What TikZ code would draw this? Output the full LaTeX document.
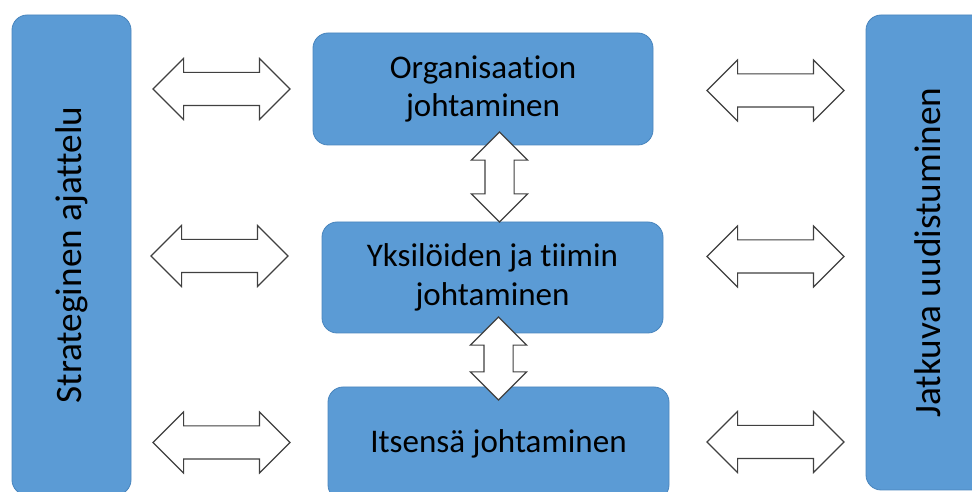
\documentclass[tikz,border=0pt]{standalone}
\usepackage{fontspec}
\setmainfont[Ligatures=NoCommon]{Carlito}
\usetikzlibrary{shapes.arrows}
\definecolor{boxblue}{HTML}{5B9BD5}
\definecolor{boxedge}{HTML}{4A86BE}

\begin{document}
\begin{tikzpicture}[
    box/.style={rectangle, rounded corners=0.38cm, fill=boxblue, draw=boxedge,
        line width=0.6pt, align=center, font=\fontsize{23.5}{27.7}\selectfont},
    sidebox/.style={box, rotate=90, font=\fontsize{26.5}{30}\selectfont},
    harrow/.style={double arrow, draw=black!75, fill=white, line width=0.8pt,
        double arrow tip angle=90, double arrow head extend=0.35cm,
        inner sep=0.4cm, minimum height=3.425cm},
    varrow/.style={double arrow, draw=black!75, fill=white, line width=0.8pt,
        double arrow tip angle=90, double arrow head extend=0.34cm,
        inner sep=0.35cm, shape border rotate=90}
]
\useasboundingbox (0, 0) rectangle (24.3, 12.3);
\clip (0, 0) rectangle (24.3, 12.3);

% side boxes
\node[sidebox, minimum width=12cm, minimum height=2.975cm] (strat) at (1.7875, 5.925) {Strateginen ajattelu};
\node[sidebox, minimum width=11.875cm, minimum height=3.1cm] (uudis) at (23.2, 5.9875) {Jatkuva uudistuminen};

% middle column
\node[box, minimum width=8.5cm, minimum height=2.8cm] (org) at (12.075, 10.075) {Organisaation\\johtaminen};
\node[box, minimum width=8.525cm, minimum height=2.775cm] (yks) at (12.3125, 5.3625) {Yksilöiden ja tiimin\\johtaminen};
\node[box, minimum width=8.525cm, minimum height=2.825cm] (itse) at (12.4625, 1.2125) {Itsensä johtaminen};

% arrows left
\node[harrow] (la1) at (5.5375, 10.075) {};
\node[harrow] (la2) at (5.4875, 5.9) {};
\node[harrow] (la3) at (5.5375, 1.2375) {};
% arrows right
\node[harrow] (ra1) at (19.3875, 10.0375) {};
\node[harrow] (ra2) at (19.3875, 5.8875) {};
\node[harrow] (ra3) at (19.3875, 1.25) {};
% arrows between levels
\node[varrow, minimum height=2.25cm] (va1) at (12.4875, 7.875) {};
\node[varrow, minimum height=2.075cm] (va2) at (12.4625, 3.3375) {};
\end{tikzpicture}
\end{document}
